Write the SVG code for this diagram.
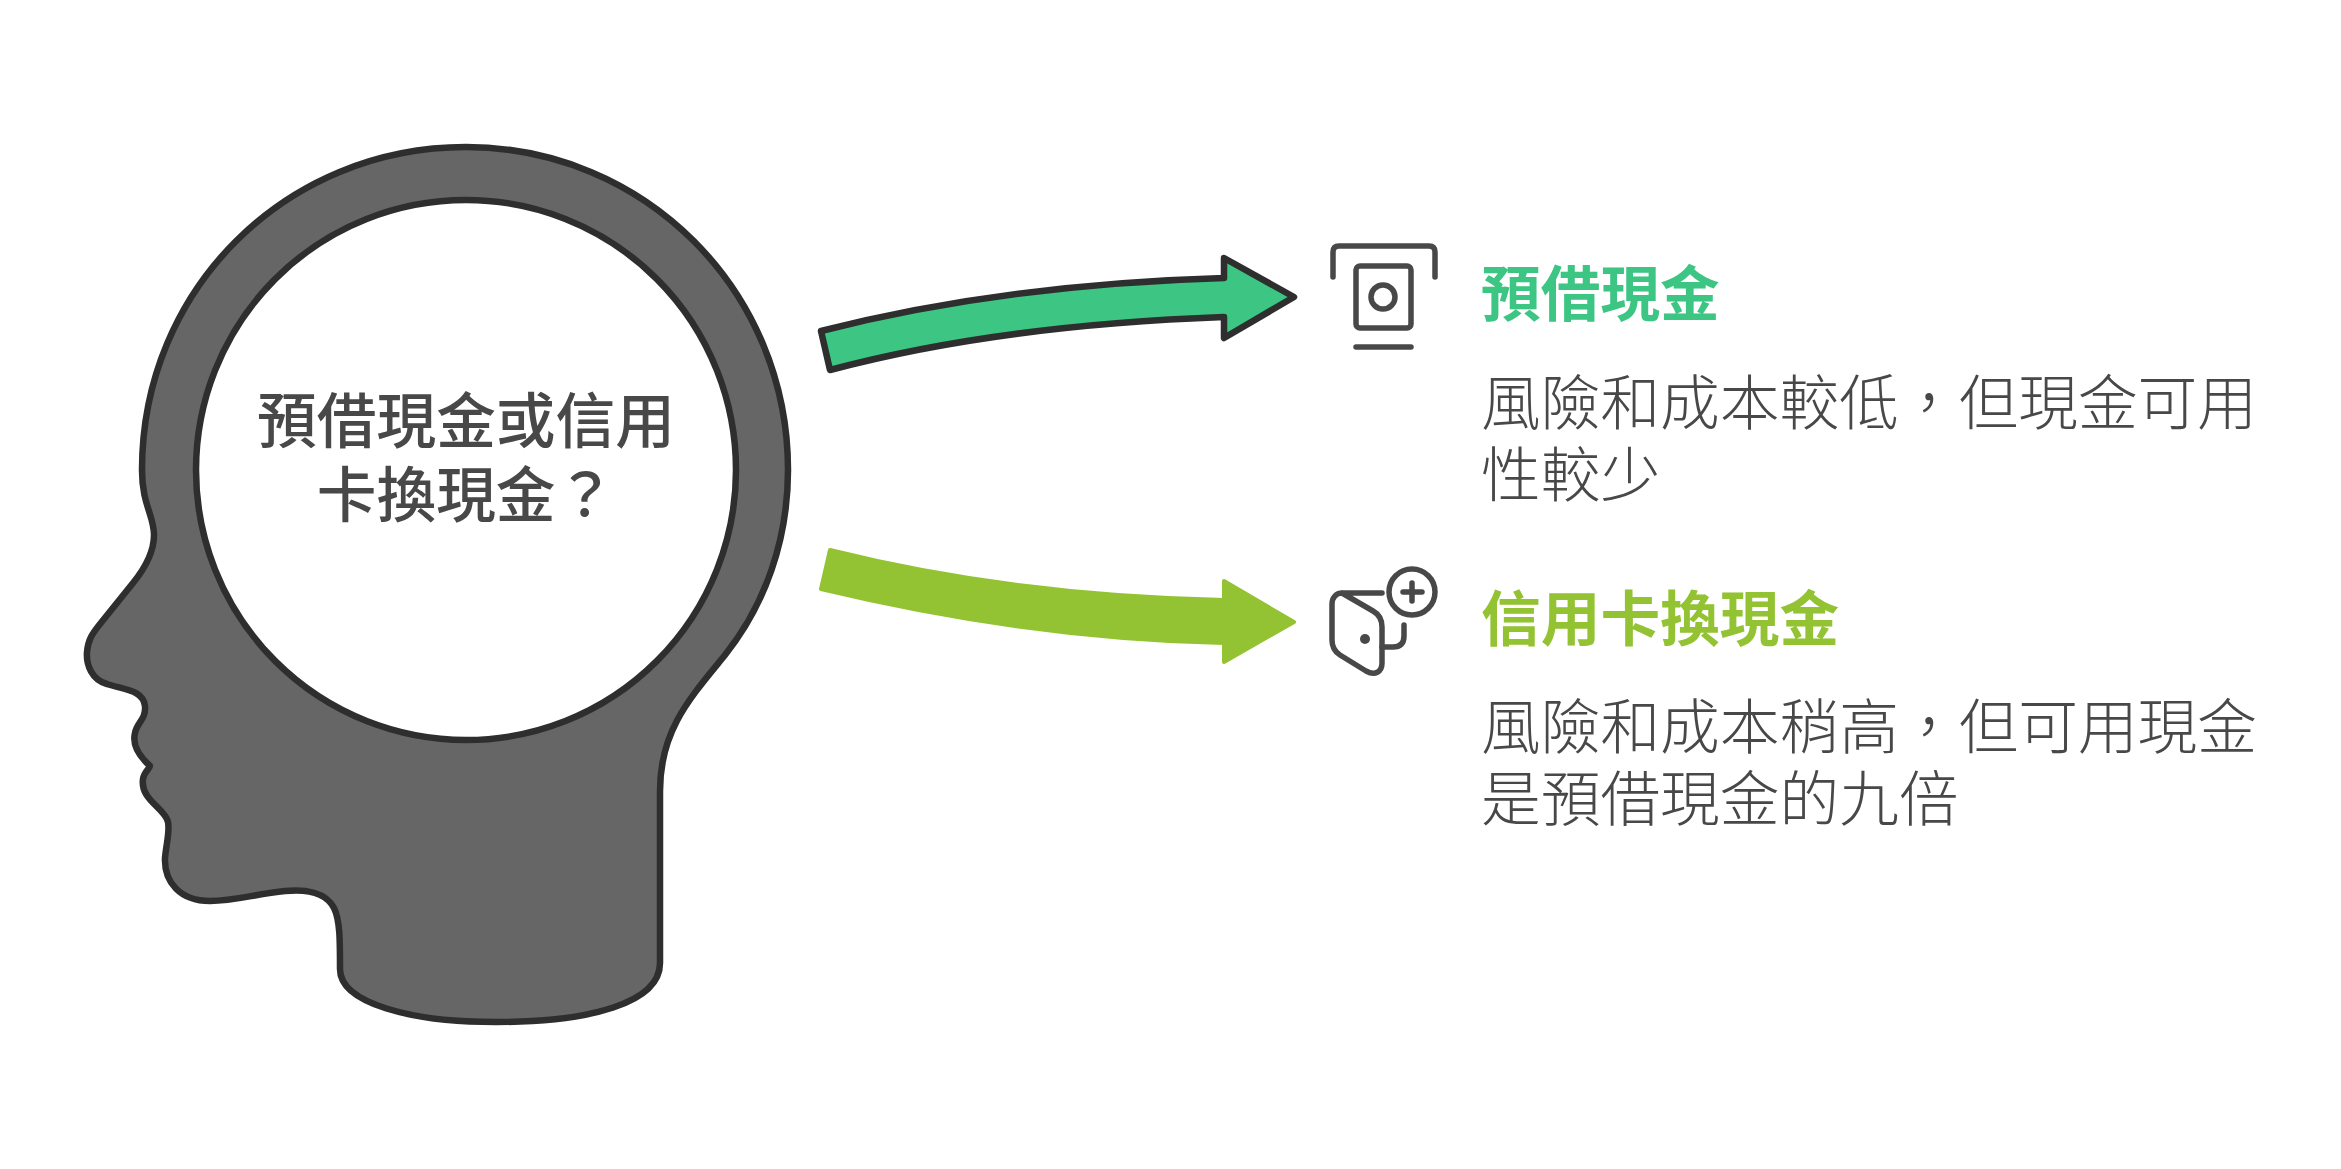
<svg xmlns="http://www.w3.org/2000/svg" width="2341" height="1169" viewBox="0 0 2341 1169">
<style>
text{font-family:"Noto Sans CJK TC","Noto Sans CJK SC",sans-serif;font-size:59.7px}
.t{font-weight:500;fill:#484848;text-anchor:middle}
.h{font-weight:700}
.b{font-weight:300;fill:#484848}
.i{fill:none;stroke:#484848;stroke-width:5.5;stroke-linecap:round;stroke-linejoin:round}
</style>
<rect width="2341" height="1169" fill="#fff"/>
<g id="head">
<path d="M142 470C142 290 285 147 466 147C644 147 788 290 788 470C788 540 765 605 725 655C690 698 660 730 660 791L660 963C660 1003 590 1022 496 1022C410 1022 340 1003 340 969C340 940 340 920 334 908C326 892 305 889 285 891C255 894 235 901 210 901C180 901 164 882 165 858C166 845 170 832 168 822C165 808 140 800 143 779C144 772 150 768 150 766C140 757 132 745 135 733C137 722 146 720 145 706C143 690 125 690 107 684C92 680 86 665 87 652C88 640 92 634 100 624L133 583C146 567 154 552 154 535C154 515 142 505 142 470Z" fill="#666666" stroke="#2e2e2e" stroke-width="6.5" stroke-linejoin="round"/>
<circle cx="466" cy="470" r="270" fill="#fff" stroke="#2e2e2e" stroke-width="6.5"/>
<text class="t" x="466" y="443">預借現金或信用</text>
<text class="t" x="466" y="517">卡換現金？</text>
</g>
<g id="connectors">
<path d="M821 331C950 298 1085 282 1224 278L1224 258L1294 297L1224 338L1224 317C1085 322 950 338 830 370Z" fill="#3dc583" stroke="#2e2e2e" stroke-width="6.5" stroke-linejoin="round"/>
<path d="M830 550C950 580 1085 597 1224 600L1224 581L1294 622L1224 662L1224 643C1085 640 950 620 821 589Z" fill="#93c332" stroke="#93c332" stroke-width="4" stroke-linejoin="round"/>
</g>
<g id="node-cash-advance">
<path class="i" d="M1333 277V252Q1333 246 1339 246H1429Q1435 246 1435 252V277"/>
<rect class="i" x="1356" y="266" width="55" height="62" rx="4"/>
<circle class="i" cx="1383" cy="297" r="12"/>
<path class="i" d="M1356 347H1411"/>
<text class="h" x="1481" y="316" fill="#3dc583">預借現金</text>
<text class="b" x="1481" y="425">風險和成本較低，但現金可用</text>
<text class="b" x="1481" y="497">性較少</text>
</g>
<g id="node-card-cash">
<circle class="i" cx="1412" cy="592" r="23"/>
<path class="i" d="M1403 592H1422M1412 583V601"/>
<path class="i" d="M1382 593H1342C1336 593 1332 598 1332 604V640Q1332 650 1340 655L1366 671C1375 676 1382 672 1382 663V627Q1382 616 1373 611L1342 593"/>
<circle cx="1365" cy="639" r="5" fill="#484848"/>
<path class="i" d="M1382 647H1393Q1404 647 1404 636V625"/>
<text class="h" x="1481" y="641" fill="#93c332">信用卡換現金</text>
<text class="b" x="1481" y="749">風險和成本稍高，但可用現金</text>
<text class="b" x="1481" y="821">是預借現金的九倍</text>
</g>
</svg>
